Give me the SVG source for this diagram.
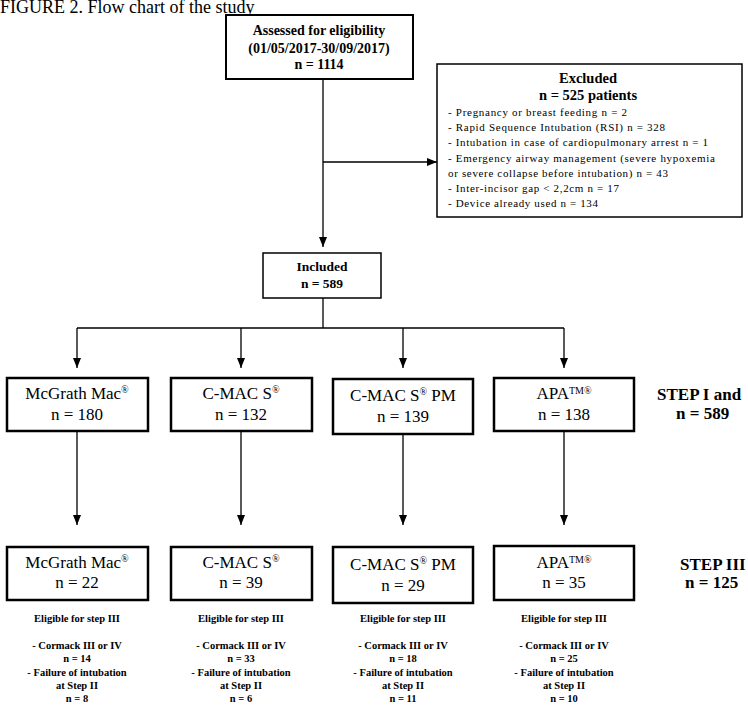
<svg xmlns="http://www.w3.org/2000/svg" width="748" height="716" viewBox="0 0 748 716" font-family="'Liberation Serif', 'Times New Roman', serif">
<style>
text{font-family:"Liberation Serif","Times New Roman",serif;fill:#000}
.b{font-weight:bold}
.c{text-anchor:middle}
.box{fill:#fff;stroke:#000}
.thin{stroke-width:1.5}
.thick{stroke-width:2.5}
.ln{fill:none;stroke:#000;stroke-width:1.3}
.t13{font-size:13.5px}
.t14{font-size:14px}
.t11{font-size:11px}
.t17{font-size:17px}
.st{font-size:17px;font-weight:bold}
.t10{font-size:10.5px}
.sup{font-size:10px}
</style>
<defs>
<marker id="ah" markerUnits="userSpaceOnUse" markerWidth="10" markerHeight="8" refX="10" refY="4" orient="auto">
<path d="M0,0 L10,4 L0,8 z" fill="#000"/>
</marker>
</defs>
<rect width="748" height="716" fill="#fff"/>
<text x="0" y="13" style="font-size:18px">FIGURE 2. Flow chart of the study</text>

<g id="connectors">
<line class="ln" x1="323" y1="79" x2="323" y2="247" marker-end="url(#ah)"/>
<line class="ln" x1="323" y1="162" x2="437" y2="162" marker-end="url(#ah)"/>
<line class="ln" x1="323" y1="298" x2="323" y2="328"/>
<line class="ln" x1="77" y1="328" x2="564" y2="328"/>
<line class="ln" x1="77" y1="328" x2="77" y2="368" marker-end="url(#ah)"/>
<line class="ln" x1="241" y1="328" x2="241" y2="368" marker-end="url(#ah)"/>
<line class="ln" x1="403" y1="328" x2="403" y2="368" marker-end="url(#ah)"/>
<line class="ln" x1="564" y1="328" x2="564" y2="368" marker-end="url(#ah)"/>
<line class="ln" x1="77" y1="431" x2="77" y2="525" marker-end="url(#ah)"/>
<line class="ln" x1="241" y1="431" x2="241" y2="525" marker-end="url(#ah)"/>
<line class="ln" x1="403" y1="434" x2="403" y2="525" marker-end="url(#ah)"/>
<line class="ln" x1="564" y1="431" x2="564" y2="525" marker-end="url(#ah)"/>
</g>

<g id="assessed">
<rect class="box" x="226" y="15" width="187" height="64" stroke-width="2"/>
<text class="b c t14" x="319" y="35">Assessed for eligibility</text>
<text class="b c t14" x="319" y="53">(01/05/2017-30/09/2017)</text>
<text class="b c t14" x="319" y="69">n = 1114</text>
</g>

<g id="excluded">
<rect class="box thin" x="437" y="64" width="305" height="153"/>
<text class="b c" x="588" y="83" style="font-size:14.5px">Excluded</text>
<text class="b c" x="588" y="100" style="font-size:14.5px">n = 525 patients</text>
<text class="t11" x="448" y="116" textLength="179" lengthAdjust="spacing">- Pregnancy  or breast feeding n = 2</text>
<text class="t11" x="448" y="131" textLength="217" lengthAdjust="spacing">- Rapid Sequence Intubation (RSI) n = 328</text>
<text class="t11" x="448" y="146" textLength="260" lengthAdjust="spacing">- Intubation in case of cardiopulmonary arrest n = 1</text>
<text class="t11" x="448" y="162" textLength="267" lengthAdjust="spacing">- Emergency airway management (severe hypoxemia</text>
<text class="t11" x="448" y="177" textLength="220" lengthAdjust="spacing">or severe collapse before intubation) n = 43</text>
<text class="t11" x="448" y="192" textLength="171" lengthAdjust="spacing">- Inter-incisor gap &lt; 2,2cm n = 17</text>
<text class="t11" x="448" y="207" textLength="150" lengthAdjust="spacing">- Device already used n = 134</text>
</g>

<g id="included">
<rect class="box thin" x="263" y="253" width="118" height="45"/>
<text class="b c t13" x="322" y="271">Included</text>
<text class="b c t13" x="322" y="288">n = 589</text>
</g>

<g id="mcgrath1">
<rect class="box thick" x="7" y="378" width="141" height="53"/>
<text class="c t17" x="77" y="399">McGrath Mac<tspan class="sup" dy="-6">®</tspan></text>
<text class="c t17" x="77" y="420">n = 180</text>
</g>
<g id="cmacs1">
<rect class="box thick" x="171" y="378" width="141" height="53"/>
<text class="c t17" x="241" y="399">C-MAC S<tspan class="sup" dy="-6">®</tspan></text>
<text class="c t17" x="241" y="420">n = 132</text>
</g>
<g id="cmacspm1">
<rect class="box thick" x="333" y="379" width="140" height="55"/>
<text class="c t17" x="403" y="401">C-MAC S<tspan class="sup" dy="-6">®</tspan><tspan dy="6"> PM</tspan></text>
<text class="c t17" x="403" y="422">n = 139</text>
</g>
<g id="apa1">
<rect class="box thick" x="494" y="378" width="140" height="53"/>
<text class="c t17" x="564" y="399">APA<tspan class="sup" dy="-5">TM®</tspan></text>
<text class="c t17" x="564" y="420">n = 138</text>
</g>
<g id="step12">
<text class="st" x="657" y="400">STEP I and</text>
<text class="st" x="676" y="419">n = 589</text>
</g>

<g id="mcgrath2">
<rect class="box thick" x="7" y="547" width="141" height="53"/>
<text class="c t17" x="77" y="568">McGrath Mac<tspan class="sup" dy="-6">®</tspan></text>
<text class="c t17" x="77" y="588">n = 22</text>
</g>
<g id="cmacs2">
<rect class="box thick" x="171" y="547" width="141" height="53"/>
<text class="c t17" x="241" y="568">C-MAC S<tspan class="sup" dy="-6">®</tspan></text>
<text class="c t17" x="241" y="588">n = 39</text>
</g>
<g id="cmacspm2">
<rect class="box thick" x="333" y="547" width="140" height="56"/>
<text class="c t17" x="403" y="570">C-MAC S<tspan class="sup" dy="-6">®</tspan><tspan dy="6"> PM</tspan></text>
<text class="c t17" x="403" y="591">n = 29</text>
</g>
<g id="apa2">
<rect class="box thick" x="494" y="546" width="140" height="54"/>
<text class="c t17" x="564" y="568">APA<tspan class="sup" dy="-5">TM®</tspan></text>
<text class="c t17" x="564" y="588">n = 35</text>
</g>
<g id="step3">
<text class="st" x="680" y="570">STEP III</text>
<text class="st" x="685" y="588">n = 125</text>
</g>

<g id="elig1" class="b c t10">
<text x="77" y="622">Eligible for step III</text>
<text x="77" y="649">- Cormack III or IV</text>
<text x="77" y="662">n = 14</text>
<text x="77" y="676">- Failure of intubation</text>
<text x="77" y="689">at Step II</text>
<text x="77" y="702">n = 8</text>
</g>
<g id="elig2" class="b c t10">
<text x="241" y="622">Eligible for step III</text>
<text x="241" y="649">- Cormack III or IV</text>
<text x="241" y="662">n = 33</text>
<text x="241" y="676">- Failure of intubation</text>
<text x="241" y="689">at Step II</text>
<text x="241" y="702">n = 6</text>
</g>
<g id="elig3" class="b c t10">
<text x="403" y="622">Eligible for step III</text>
<text x="403" y="649">- Cormack III or IV</text>
<text x="403" y="662">n = 18</text>
<text x="403" y="676">- Failure of intubation</text>
<text x="403" y="689">at Step II</text>
<text x="403" y="702">n = 11</text>
</g>
<g id="elig4" class="b c t10">
<text x="564" y="622">Eligible for step III</text>
<text x="564" y="649">- Cormack III or IV</text>
<text x="564" y="662">n = 25</text>
<text x="564" y="676">- Failure of intubation</text>
<text x="564" y="689">at Step II</text>
<text x="564" y="702">n = 10</text>
</g>
</svg>
